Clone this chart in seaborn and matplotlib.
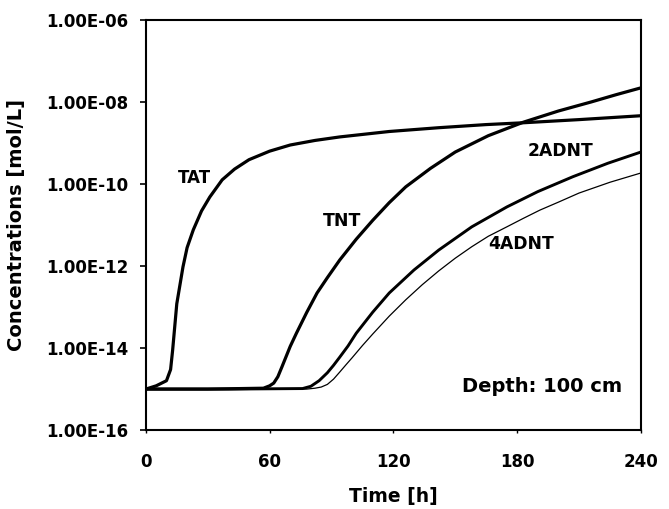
import pandas as pd
import matplotlib
matplotlib.use("Agg")
import matplotlib.pyplot as plt
import seaborn as sns

# Valores (tiempo en h, concentración en mol/L)
t_tat = [0, 5, 10, 12, 13, 15, 18, 20, 23, 27, 31, 37, 43, 50, 60, 70, 82, 94, 118, 142, 165, 183, 210, 240]
c_tat = [1.0e-15, 1.2e-15, 1.6e-15, 3.0e-15, 9.0e-15, 1.2e-13, 9.5e-13, 2.8e-12, 7.6e-12, 2.2e-11, 4.8e-11, 1.26e-10,
         2.3e-10, 3.9e-10, 6.3e-10, 8.9e-10, 1.15e-9, 1.4e-9, 1.9e-9, 2.35e-9, 2.8e-9, 3.1e-9, 3.7e-9, 4.6e-9]

t_tnt = [0, 30, 57, 60, 62, 64, 66, 70, 73, 78, 83, 88, 94, 102, 110, 118, 126, 138, 150, 166, 183, 200, 216, 228, 240]
c_tnt = [1.0e-15, 1.0e-15, 1.05e-15, 1.2e-15, 1.4e-15, 2.0e-15, 3.5e-15, 1.1e-14, 2.3e-14, 7.4e-14, 2.2e-13, 5.2e-13,
         1.4e-12, 4.5e-12, 1.3e-11, 3.5e-11, 8.5e-11, 2.4e-10, 6.0e-10, 1.5e-9, 3.2e-9, 6.0e-9, 1.0e-8, 1.5e-8, 2.2e-8]

t_2adnt = [0, 40, 76, 80, 84, 88, 91, 94, 98, 102, 110, 118, 130, 142, 158, 175, 190, 207, 224, 240]
c_2adnt = [1.0e-15, 1.0e-15, 1.03e-15, 1.17e-15, 1.6e-15, 2.5e-15, 3.8e-15, 6.0e-15, 1.12e-14, 2.3e-14, 7.5e-14,
           2.2e-13, 8.0e-13, 2.45e-12, 9.0e-12, 2.75e-11, 6.5e-11, 1.5e-10, 3.2e-10, 6.0e-10]

t_4adnt = [0, 40, 78, 82, 85, 88, 91, 94, 97, 100, 105, 110, 118, 126, 134, 142, 150, 158, 166, 175, 183, 191, 200,
           210, 225, 240]
c_4adnt = [1.0e-15, 1.0e-15, 1.0e-15, 1.05e-15, 1.12e-15, 1.3e-15, 1.75e-15, 2.6e-15, 3.9e-15, 5.8e-15, 1.15e-14,
           2.2e-14, 6.0e-14, 1.5e-13, 3.5e-13, 7.6e-13, 1.55e-12, 2.95e-12, 5.3e-12, 9.0e-12, 1.45e-11, 2.3e-11,
           3.6e-11, 6.0e-11, 1.1e-10, 1.85e-10]

series = [("TAT", t_tat, c_tat, 2.3),
          ("TNT", t_tnt, c_tnt, 2.3),
          ("2ADNT", t_2adnt, c_2adnt, 2.1),
          ("4ADNT", t_4adnt, c_4adnt, 0.9)]

df = pd.concat([pd.DataFrame({"t": t, "c": c, "especie": n}) for n, t, c, _ in series])

sns.set_style("white")
plt.rcParams["font.family"] = ["DejaVu Sans"]
plt.rcParams["font.weight"] = "bold"
plt.rcParams["text.color"] = "black"

fig = plt.figure(figsize=(6.69, 5.09), dpi=100)
ax = fig.add_axes([0.218, 0.155, 0.74, 0.806])

for n, t, c, lw in series:
    sns.lineplot(data=df[df["especie"] == n], x="t", y="c", ax=ax, color="black",
                 linewidth=lw, legend=False, sort=False)

ax.set_yscale("log")
ax.set_xlim(0, 240)
ax.set_ylim(1e-16, 1e-6)
ax.set_xticks([0, 60, 120, 180, 240])
yt = [1e-16, 1e-14, 1e-12, 1e-10, 1e-8, 1e-6]
ax.set_yticks(yt)
ax.set_yticklabels([f"{v:.2E}" for v in yt])
ax.yaxis.set_minor_locator(matplotlib.ticker.NullLocator())
ax.tick_params(axis="y", direction="out", length=4.3, width=1.2, labelsize=12, color="black",
               labelcolor="black", left=True, pad=8)
ax.tick_params(axis="x", direction="out", length=2.2, width=1.0, labelsize=12, color="black",
               labelcolor="black", bottom=True, pad=14)
for lab in ax.get_xticklabels() + ax.get_yticklabels():
    lab.set_fontweight("bold")

for s in ax.spines.values():
    s.set_color("black")
    s.set_linewidth(1.5)

ax.set_xlabel("Time [h]", fontsize=13.5, fontweight="bold", color="black", va="center")
ax.xaxis.set_label_coords(0.5, -0.163)
ax.set_ylabel("Concentrations [mol/L]", fontsize=14, fontweight="bold", color="black", va="center")
ax.yaxis.set_label_coords(-0.261, 0.5)

ax.text(23.8, 1.4e-10, "TAT", fontsize=12, fontweight="bold", ha="center", va="center")
ax.text(95, 1.25e-11, "TNT", fontsize=12.5, fontweight="bold", ha="center", va="center")
ax.text(201, 6.4e-10, "2ADNT", fontsize=12.3, fontweight="bold", ha="center", va="center")
ax.text(181.8, 3.5e-12, "4ADNT", fontsize=12.3, fontweight="bold", ha="center", va="center")
ax.text(0.80, 0.107, "Depth: 100 cm", transform=ax.transAxes, fontsize=14,
        fontweight="bold", ha="center", va="center")

fig.savefig("out.png", dpi=100)
